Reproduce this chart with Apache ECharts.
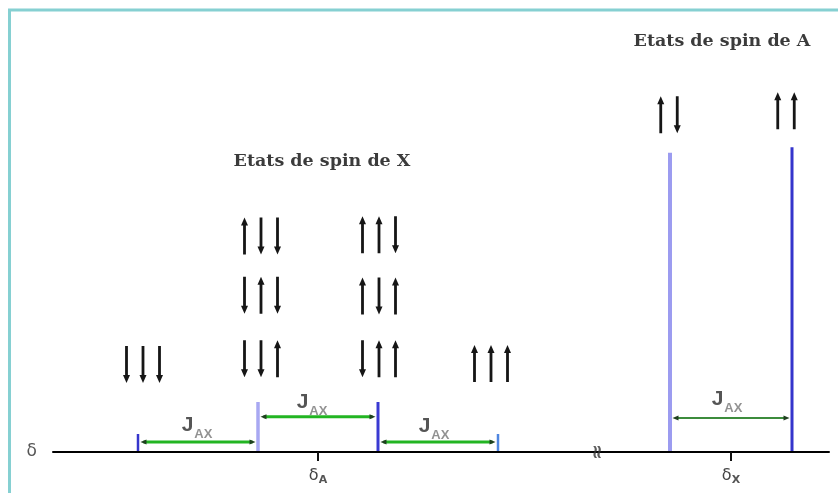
<!DOCTYPE html>
<html>
<head>
<meta charset="utf-8">
<script src="https://cdn.jsdelivr.net/npm/echarts@6/dist/echarts.min.js"></script>
<style>html,body{margin:0;padding:0;background:#fff}#c{width:838px;height:493px}</style>
</head>
<body>
<div id="c"></div>
<script>
// ---- data (chemical shift axis in arbitrary Hz-like units, intensities in arbitrary units) ----
const deltaA = 0;
const deltaX = 20.65;
const shiftTicks = [deltaA, deltaX];
const shiftTickLabels = ['A', 'X'];

// resonance lines: X multiplet (1:3:3:1) and A doublet
const stemX = [-9, -3, 3, 9, 17.6, 23.7];
const stemH = [4.5, 12.5, 12.5, 4.5, 74.8, 76.2];

// coupling arrows J_AX : [from, to, height]
const jFrom = [-9, -3, 3, 17.6];
const jTo = [-3, 3, 9, 23.7];
const jY = [2.5, 8.8, 2.5, 8.5];
const jLabelX = [-6.05, -0.3, 5.8, 20.45];
const jLabelY = [6.6, 12.4, 6.4, 13.1];

// spin states
const spinStates = ['↓↓↓', '↑↓↓', '↓↑↓', '↓↓↑', '↑↑↓', '↑↓↑', '↓↑↑', '↑↑↑', '↑↓', '↑↑'];
const spinX = [-8.75, -2.85, -2.85, -2.85, 3.05, 3.05, 3.05, 8.65, 17.55, 23.4];
const spinY = [21.9, 54.0, 39.2, 23.3, 54.3, 39.0, 23.3, 22.1, 84.3, 85.3];

// headings
const titleTexts = ['Etats de spin de X', 'Etats de spin de A'];
const titleX = [0.2, 20.2];
const titleY = [72.6, 102.6];

// break mark on the shift axis
const breakX = [14];

// ---- styles ----
const stemColors = ['#3636cc', '#a8a8f2', '#3a3ad2', '#4f86e0', '#9c9cf0', '#3535cc'];
const stemWidths = [2.5, 3.5, 3, 2.5, 4, 3];
const jColors = ['#22b522', '#22b522', '#22b522', '#3c8c3c'];
const jWidths = [3, 3, 3, 2];

function spinPath(state) {
  let d = '';
  Array.from(state).forEach((c, i) => {
    const ox = i * 16.5 + 3.5;
    if (c === '↑') {
      d += `M${ox - 1.4} 37 L${ox - 1.4} 8 L${ox - 3.5} 8 L${ox} 0 L${ox + 3.5} 8 L${ox + 1.4} 8 L${ox + 1.4} 37 Z `;
    } else {
      d += `M${ox - 1.4} 0 L${ox - 1.4} 29 L${ox - 3.5} 29 L${ox} 37 L${ox + 3.5} 29 L${ox + 1.4} 29 L${ox + 1.4} 0 Z `;
    }
  });
  return 'path://' + d;
}

const chart = echarts.init(document.getElementById('c'), null, {renderer: 'canvas'});
chart.setOption({
  animation: false,
  backgroundColor: '#ffffff',
  graphic: [{
    type: 'rect', silent: true, z: 0,
    shape: {x: 9.5, y: 10, width: 900, height: 600},
    style: {fill: 'none', stroke: '#86d0d2', lineWidth: 3}
  }],
  grid: {left: 53, right: 9, top: 12, bottom: 41},
  xAxis: {
    type: 'value', min: -13.25, max: 25.55,
    name: 'δ', nameLocation: 'start', nameGap: 16,
    nameTextStyle: {fontFamily: 'DejaVu Sans', fontSize: 17, color: '#555', verticalAlign: 'middle'},
    axisLine: {show: true, lineStyle: {color: '#000', width: 2}},
    splitLine: {show: false},
    axisTick: {show: true, customValues: shiftTicks, length: 9, lineStyle: {color: '#111', width: 2}},
    axisLabel: {
      show: true, customValues: shiftTicks, margin: 14,
      formatter: v => '{d|δ}{s|' + shiftTickLabels[shiftTicks.indexOf(v)] + '}',
      rich: {
        d: {fontFamily: 'DejaVu Sans', fontSize: 16, color: '#444'},
        s: {fontFamily: 'DejaVu Sans', fontSize: 11, fontWeight: 'bold', color: '#555', padding: [9, 0, 0, 0]}
      }
    }
  },
  yAxis: {type: 'value', min: 0, max: 110, show: false},
  series: [
    {
      type: 'custom', silent: true, clip: false, z: 3,
      data: stemX.map((x, i) => [x, stemH[i]]),
      renderItem: (params, api) => {
        const p0 = api.coord([api.value(0), 0]);
        const p1 = api.coord([api.value(0), api.value(1)]);
        return {type: 'line', shape: {x1: p0[0], y1: p0[1] - 1, x2: p1[0], y2: p1[1]},
          style: {stroke: stemColors[params.dataIndex], lineWidth: stemWidths[params.dataIndex]}};
      }
    },
    {
      type: 'custom', silent: true, clip: false, z: 4,
      data: jFrom.map((x, i) => [x, jTo[i], jY[i]]),
      renderItem: (params, api) => {
        const a = api.coord([api.value(0), api.value(2)]);
        const b = api.coord([api.value(1), api.value(2)]);
        const y = a[1];
        const ax = a[0] + 2.5, bx = b[0] - 2.5;
        const col = jColors[params.dataIndex];
        return {type: 'group', children: [
          {type: 'line', shape: {x1: ax + 3, y1: y, x2: bx - 3, y2: y}, style: {stroke: col, lineWidth: jWidths[params.dataIndex]}},
          {type: 'polygon', shape: {points: [[ax, y], [ax + 6, y - 2.5], [ax + 6, y + 2.5]]}, style: {fill: '#1f3f1f'}},
          {type: 'polygon', shape: {points: [[bx, y], [bx - 6, y - 2.5], [bx - 6, y + 2.5]]}, style: {fill: '#1f3f1f'}}
        ]};
      }
    },
    {
      type: 'scatter', silent: true, z: 5,
      data: spinX.map((x, i) => [x, spinY[i]]),
      symbol: (v, p) => spinPath(spinStates[p.dataIndex]),
      symbolSize: (v, p) => [(spinStates[p.dataIndex].length - 1) * 16.5 + 7, 37],
      symbolKeepAspect: false,
      itemStyle: {color: '#161616', opacity: 1}
    },
    {
      type: 'scatter', silent: true, z: 6,
      data: jLabelX.map((x, i) => [x, jLabelY[i]]),
      symbolSize: 0,
      label: {
        show: true, position: 'inside',
        formatter: '{j|J}{s|AX}',
        rich: {
          j: {fontFamily: 'Liberation Sans', fontWeight: 'bold', fontSize: 21, color: '#2a2a2a'},
          s: {fontFamily: 'Liberation Sans', fontWeight: 'bold', fontSize: 13, color: '#777', padding: [18, 0, 0, 1]}
        }
      }
    },
    {
      type: 'scatter', silent: true, z: 6,
      data: titleX.map((x, i) => [x, titleY[i]]),
      symbolSize: 0,
      label: {
        show: true, position: 'inside',
        formatter: p => titleTexts[p.dataIndex],
        fontFamily: 'DejaVu Serif', fontWeight: 'bold', fontSize: 17.5, color: '#0a0a0a'
      }
    },
    {
      type: 'scatter', silent: true, z: 6,
      data: breakX.map(x => [x, 0]),
      symbolSize: 0,
      label: {
        show: true, position: 'inside', formatter: '≈', rotate: 90,
        fontFamily: 'DejaVu Sans', fontWeight: 'bold', fontSize: 19, color: '#333'
      }
    }
  ]
});
</script>
</body>
</html>
